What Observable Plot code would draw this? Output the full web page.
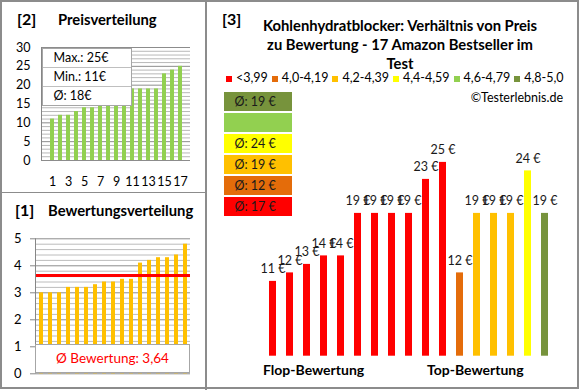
<!DOCTYPE html>
<html><head><meta charset="utf-8">
<script src="https://cdn.jsdelivr.net/npm/d3@7"></script>
<script src="https://cdn.jsdelivr.net/npm/@observablehq/plot@0.6"></script>
<style>
body{margin:0;background:#fff;}
#root{position:relative;width:580px;height:390px;font-family:Lato,sans-serif;color:#000;overflow:hidden;background:#fff}
.abs{position:absolute;white-space:nowrap}
.hd{font-weight:bold;font-size:16px}
.ttl{font-weight:bold;font-size:14.8px}
.statbox{background:#fff;border:1px solid #a6a6a6;font-size:12.5px}
.statbox div{height:18px;line-height:18px;padding-left:11px;border-top:1px solid #bfbfbf}
.statbox div:first-child{border-top:none}
.leg{display:flex;align-items:center;font-size:12.5px;gap:4px}
.leg span.sw{display:inline-block;width:6px;height:6px;margin-right:4px}
</style></head><body><div id="root"></div>
<script>
// ---- data ----
const ranks = d3.range(1, 18);
const priceSorted = [11,12,12,13,14,14,15,15,15,15,19,19,19,19,23,24,25];
const priceTicksY = [0,5,10,15,20,25,30];
const priceTicksX = [1,3,5,7,9,11,13,15,17];
const priceStats = ["Max.: 25€","Min.: 11€","Ø: 18€"];
const ratingSorted = [3.0,3.0,3.0,3.2,3.2,3.2,3.3,3.4,3.4,3.5,3.5,4.1,4.2,4.3,4.3,4.4,4.8];
const ratingTicksY = [0,1,2,3,4,5];
const ratingAvg = 3.64;
const ratingAvgLabel = "Ø Bewertung: 3,64";
const productPrices = [11,12,13,14,14,19,19,19,19,23,25,12,19,19,19,24,19];
const productClass = ["<3,99","<3,99","<3,99","<3,99","<3,99","<3,99","<3,99","<3,99","<3,99","<3,99","<3,99","4,0-4,19","4,2-4,39","4,2-4,39","4,2-4,39","4,4-4,59","4,8-5,0"];
const classNames = ["<3,99","4,0-4,19","4,2-4,39","4,4-4,59","4,6-4,79","4,8-5,0"];
const classColors = ["#FF0000","#E46C0A","#FFC000","#FFFF00","#92D050","#77933C"];
const classAvgLabels = ["Ø: 17 €","Ø: 12 €","Ø: 19 €","Ø: 24 €","","Ø: 19 €"];
const mainTitle = ["Kohlenhydratblocker: Verhältnis von Preis","zu Bewertung - 17 Amazon Bestseller im","Test"];

const root = document.getElementById("root");
function place(node, left, top) {
  const w = document.createElement("div");
  w.className = "abs"; w.style.left = left + "px"; w.style.top = top + "px";
  w.appendChild(node); root.appendChild(w); return w;
}
function html(s, left, top, cls, extra) {
  const d = document.createElement("div");
  d.className = "abs " + (cls || ""); d.style.left = left + "px"; d.style.top = top + "px";
  d.innerHTML = s; if (extra) Object.assign(d.style, extra);
  root.appendChild(d); return d;
}
const leftLine = (color) => (index, scales, values, dim) =>
  d3.create("svg:line")
    .attr("x1", dim.marginLeft + 0.5).attr("x2", dim.marginLeft + 0.5)
    .attr("y1", dim.marginTop).attr("y2", dim.height - dim.marginBottom)
    .attr("stroke", color).node();

// frame lines
html("", 0, 0, "", {width:"575px", height:"385px", border:"2px solid #8c8c8c"});
html("", 205, 0, "", {width:"1.5px", height:"390px", background:"#8c8c8c"});
html("", 0, 191.5, "", {width:"205px", height:"1.5px", background:"#8c8c8c"});

// ---- panel [2] Preisverteilung ----
html("[2]", 17, 9, "hd");
html("Preisverteilung", 58, 10, "ttl");
const priceData = ranks.map((r, i) => ({rank: r, price: priceSorted[i]}));
const p2 = Plot.plot({
  width: 200, height: 155, marginLeft: 41, marginRight: 10, marginTop: 7, marginBottom: 35,
  style: {fontFamily: "Lato", fontSize: "12.5px", color: "#000", background: "transparent"},
  x: {type: "band", domain: ranks, paddingInner: 0.5, paddingOuter: 0.31, axis: null, label: null},
  y: {domain: [0, 30], axis: null, label: null},
  marks: [
    Plot.ruleY(d3.range(0, 31), {stroke: d => d % 5 === 0 ? "#8c8c8c" : "#b8b8b8", strokeWidth: 1}),
    Plot.barY(priceData, {x: "rank", y: "price", fill: "#92D050"}),
    leftLine("#868686"),
    Plot.axisY(priceTicksY, {tickSize: 0, tickPadding: 11, fill: "#000", label: null}),
    Plot.axisX(priceTicksX, {tickSize: 0, tickPadding: 17, fill: "#000", label: null})
  ]
});
place(p2, 0, 40);
html(priceStats.map(s => "<div>" + s + "</div>").join(""), 41.5, 48, "statbox", {width: "88px"});

// ---- panel [1] Bewertungsverteilung ----
html("[1]", 15, 200, "hd");
html("Bewertungsverteilung", 48, 201, "ttl");
const ratingData = ranks.map((r, i) => ({rank: r, rating: ratingSorted[i]}));
const p1 = Plot.plot({
  width: 200, height: 160, marginLeft: 35, marginRight: 10, marginTop: 13.3, marginBottom: 11.7,
  style: {fontFamily: "Lato", fontSize: "13px", color: "#000", background: "transparent"},
  x: {type: "band", domain: ranks, paddingInner: 0.56, paddingOuter: 0.3, axis: null, label: null},
  y: {domain: [0, 5], axis: null, label: null},
  marks: [
    Plot.ruleY(d3.range(0, 26).map(k => k / 5), {stroke: (d, i) => i % 5 === 0 ? "#8c8c8c" : "#bcbcbc", strokeWidth: 1}),
    Plot.barY(ratingData, {x: "rank", y: "rating", fill: "#FFC000"}),
    Plot.ruleY([ratingAvg], {stroke: "#FF0000", strokeWidth: 3}),
    leftLine("#868686"),
    Plot.axisY(ratingTicksY, {tickSize: 5, tickPadding: 9, stroke: "#868686", fill: "#000", label: null})
  ]
});
place(p1, 0, 225);
html(ratingAvgLabel, 35, 344, "", {width: "153px", height: "27px", lineHeight: "27px", textAlign: "center",
  background: "#fff", border: "1px solid #a6a6a6", color: "#FF0000", fontSize: "13.5px"});

// ---- panel [3] ----
html("[3]", 222, 9, "hd");
html(mainTitle.join("<br>"), 230, 16, "ttl", {width: "340px", textAlign: "center", lineHeight: "19px"});
html(classNames.map((c, i) => '<div><span class="sw" style="background:' + classColors[i] + '"></span>' + c + '</div>').join(""), 226, 70, "leg");
html("©Testerlebnis.de", 0, 90, "", {left: "auto", right: "17px", fontSize: "12.5px"});

// avg boxes
const avgData = classNames.map((c, i) => ({cls: c, label: classAvgLabels[i]})).reverse();
const pBox = Plot.plot({
  width: 68, height: 129, margin: 0,
  style: {fontFamily: "Lato", fontSize: "12.5px", color: "#000", background: "transparent"},
  x: {axis: null},
  y: {type: "band", domain: avgData.map(d => d.cls), paddingInner: 0.083, paddingOuter: 0, axis: null, label: null},
  color: {domain: classNames, range: classColors},
  marks: [
    Plot.cell(avgData, {y: "cls", fill: "cls"}),
    Plot.text(avgData, {y: "cls", text: "label", frameAnchor: "left", dx: 10, fill: "#1a1a1a", fontSize: 12.5, textAnchor: "start"})
  ]
});
place(pBox, 224, 90);

// main bars
const products = ranks.map((r, i) => ({i: r, price: productPrices[i], cls: productClass[i]}));
const p3 = Plot.plot({
  width: 372, height: 288, marginLeft: 46.6, marginRight: 14.6, marginTop: 19.4, marginBottom: 32.3,
  style: {fontFamily: "Lato", fontSize: "12.5px", color: "#000", background: "transparent", overflow: "visible"},
  x: {type: "band", domain: ranks, padding: 0.6, axis: null, label: null},
  y: {domain: [2.2, 30], clamp: true, axis: null, label: null},
  color: {domain: classNames, range: classColors},
  marks: [
    Plot.barY(products, {x: "i", y: "price", fill: "cls"}),
    Plot.text(products, {x: "i", y: "price", text: d => d.price + " €", dy: -12, fill: "#1a1a1a", fontSize: 12.5})
  ]
});
place(p3, 206, 100);
html("Flop-Bewertung", 263, 361, "", {fontWeight: "bold", fontSize: "14px"});
html("Top-Bewertung", 427, 361, "", {fontWeight: "bold", fontSize: "14px"});
</script>
</body></html>
